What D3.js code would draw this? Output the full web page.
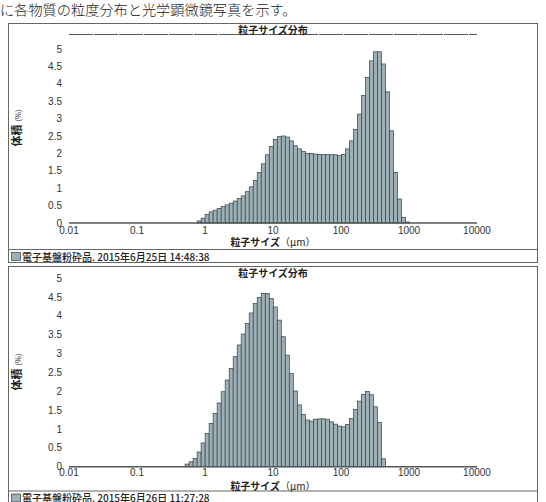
<!DOCTYPE html>
<html>
<head>
<meta charset="utf-8">
<script src="https://cdn.jsdelivr.net/npm/d3@7"></script>
<style>
  body { margin: 0; background: #fff; }
  svg { display: block; }
  .frame { fill: none; stroke: #666; stroke-width: 1; }
  .num { font-family: "Liberation Sans", Arial, sans-serif; font-size: 10px; fill: #333; }
  .jp { font-family: "Noto Sans CJK JP", sans-serif; fill: #222; }
</style>
</head>
<body>
<svg id="chart"></svg>
<script>
// channel edges of the analyser (µm), one bar between each pair
const SIZE_EDGES = [
  0.445, 0.510, 0.584, 0.669, 0.766, 0.877, 1.005, 1.151, 1.318, 1.510,
  1.729, 1.981, 2.269, 2.599, 2.976, 3.409, 3.905, 4.472, 5.122, 5.867,
  6.720, 7.697, 8.816, 10.097, 11.565, 13.246, 15.172, 17.377, 19.904, 22.797,
  26.111, 29.907, 34.255, 39.234, 44.938, 51.471, 58.953, 67.523, 77.339, 88.583,
  101.460, 116.210, 133.103, 152.453, 174.616, 200.000, 229.075, 262.376, 300.518, 344.206,
  394.244, 451.556, 517.200, 592.387, 678.504, 777.141, 890.116, 1019.52
];

// 体積(%) per channel, 2015-06-25 sample
const VOLUME_0625 = [
  0, 0, 0, 0, 0.06, 0.14, 0.25, 0.32, 0.37, 0.42,
  0.47, 0.52, 0.57, 0.63, 0.70, 0.78, 0.90, 1.04, 1.22, 1.45,
  1.70, 1.96, 2.20, 2.40, 2.48, 2.50, 2.47, 2.36, 2.22, 2.13,
  2.06, 2.00, 2.00, 1.98, 1.97, 1.97, 1.97, 1.96, 1.96, 1.94,
  1.97, 2.13, 2.36, 2.69, 3.13, 3.66, 4.18, 4.66, 4.92, 4.92,
  4.57, 3.77, 2.65, 1.45, 0.69, 0.16, 0.03
];

// 体積(%) per channel, 2015-06-26 sample
const VOLUME_0626 = [
  0, 0.07, 0.13, 0.22, 0.39, 0.63, 0.88, 1.15, 1.41, 1.69,
  1.99, 2.30, 2.61, 2.92, 3.23, 3.52, 3.80, 4.08, 4.33, 4.49,
  4.60, 4.60, 4.46, 4.24, 3.89, 3.45, 2.96, 2.47, 2.01, 1.64,
  1.39, 1.24, 1.21, 1.26, 1.27, 1.27, 1.26, 1.19, 1.13, 1.08,
  1.06, 1.12, 1.28, 1.52, 1.74, 1.92, 2.00, 1.91, 1.59, 1.17,
  0.21, 0, 0, 0, 0, 0, 0
];

const X_TICKS = [0.01, 0.1, 1, 10, 100, 1000, 10000];
const Y_TICKS = [0, 0.5, 1, 1.5, 2, 2.5, 3, 3.5, 4, 4.5, 5];
const LEGEND_LABELS = [
  "電子基盤粉砕品. 2015年6月25日 14:48:38",
  "電子基盤粉砕品. 2015年6月26日 11:27:28"
];
const CHART_TITLE = "粒子サイズ分布";
const INTRO_TEXT = "に各物質の粒度分布と光学顕微鏡写真を示す。";

const BAR_FILL = "#9db0b5";
const BAR_STROKE = "#30424a";

const W = 546, H = 502;
const svg = d3.select("#chart").attr("width", W).attr("height", H);

svg.append("text")
  .attr("class", "jp")
  .attr("x", 0).attr("y", 14.5)
  .attr("font-size", 14.2)
  .attr("font-weight", 300)
  .attr("fill", "#333")
  .text(INTRO_TEXT);

const x = d3.scaleLog().domain([0.01, 10000]).range([69, 477]);

function drawPanel(p) {
  const g = svg.append("g");
  const y = d3.scaleLinear().domain([0, 5]).range([p.zeroY, p.fiveY]);

  // outer box + legend separator
  g.append("rect").attr("class", "frame")
    .attr("x", 8.5).attr("y", p.top + 0.5)
    .attr("width", 529).attr("height", p.bottom - p.top);
  g.append("line").attr("class", "frame")
    .attr("x1", 8.5).attr("x2", 537.5)
    .attr("y1", p.sepY).attr("y2", p.sepY);

  if (p.titleLine) {
    g.append("line")
      .attr("x1", x.range()[0]).attr("x2", x.range()[1])
      .attr("y1", p.titleLine).attr("y2", p.titleLine)
      .attr("stroke", "#555").attr("stroke-width", 1.2)
      .attr("stroke-dasharray", "24,1");
  }

  g.append("text")
    .attr("class", "jp")
    .attr("x", 273).attr("y", p.titleY)
    .attr("text-anchor", "middle")
    .attr("font-size", 10).attr("font-weight", 700)
    .text(CHART_TITLE);

  // bars
  const bins = p.values.map((v, i) => ({ v, x0: SIZE_EDGES[i], x1: SIZE_EDGES[i + 1] }))
    .filter((d) => d.v > 0);
  g.selectAll("rect.bar").data(bins).join("rect")
    .attr("class", "bar")
    .attr("x", (d) => x(d.x0))
    .attr("y", (d) => y(d.v))
    .attr("width", (d) => x(d.x1) - x(d.x0))
    .attr("height", (d) => y(0) - y(d.v))
    .attr("fill", BAR_FILL)
    .attr("stroke", BAR_STROKE)
    .attr("stroke-width", 0.7);

  // x axis
  g.append("line")
    .attr("x1", x.range()[0]).attr("x2", x.range()[1])
    .attr("y1", y(0)).attr("y2", y(0))
    .attr("stroke", "#555").attr("stroke-width", 1.4);

  g.selectAll("text.xt").data(X_TICKS).join("text")
    .attr("class", "num xt")
    .attr("x", (d) => x(d)).attr("y", p.labelY)
    .attr("text-anchor", "middle")
    .text((d) => String(d));

  g.selectAll("text.yt").data(Y_TICKS).join("text")
    .attr("class", "num yt")
    .attr("x", 62).attr("y", (d) => y(d) + 3.5)
    .attr("text-anchor", "end")
    .text((d) => String(d));

  // axis titles
  const yt = g.append("text")
    .attr("class", "jp")
    .attr("transform", `translate(21,${p.yTitleY}) rotate(-90)`)
    .attr("text-anchor", "middle");
  yt.append("tspan").attr("font-size", 11).attr("font-weight", 700).text("体積");
  yt.append("tspan").attr("font-size", 7.5).attr("dx", 3).text("(%)");

  const xt = g.append("text")
    .attr("class", "jp")
    .attr("x", 273).attr("y", p.xTitleY)
    .attr("text-anchor", "middle")
    .attr("font-size", 10);
  xt.append("tspan").attr("font-weight", 700).text("粒子サイズ");
  xt.append("tspan").text("（μm）");

  // legend row
  g.append("rect")
    .attr("x", 11.5).attr("y", p.sepY + 3)
    .attr("width", 9).attr("height", 8)
    .attr("fill", BAR_FILL).attr("stroke", BAR_STROKE).attr("stroke-width", 0.7);
  g.append("text")
    .attr("class", "jp")
    .attr("x", 22).attr("y", p.sepY + 11)
    .attr("font-size", 10).attr("font-weight", 500)
    .text(p.legend);
}

const PANELS = [
  { values: VOLUME_0625, legend: LEGEND_LABELS[0], top: 23, bottom: 262, sepY: 249.5,
    zeroY: 223, fiveY: 49, titleY: 33.5, titleLine: 34.5, labelY: 233.5, xTitleY: 246, yTitleY: 128 },
  { values: VOLUME_0626, legend: LEGEND_LABELS[1], top: 266, bottom: 520, sepY: 491,
    zeroY: 466.7, fiveY: 278.3, titleY: 277, titleLine: null, labelY: 476, xTitleY: 489.5, yTitleY: 372 }
];

PANELS.forEach(drawPanel);
</script>
</body>
</html>
